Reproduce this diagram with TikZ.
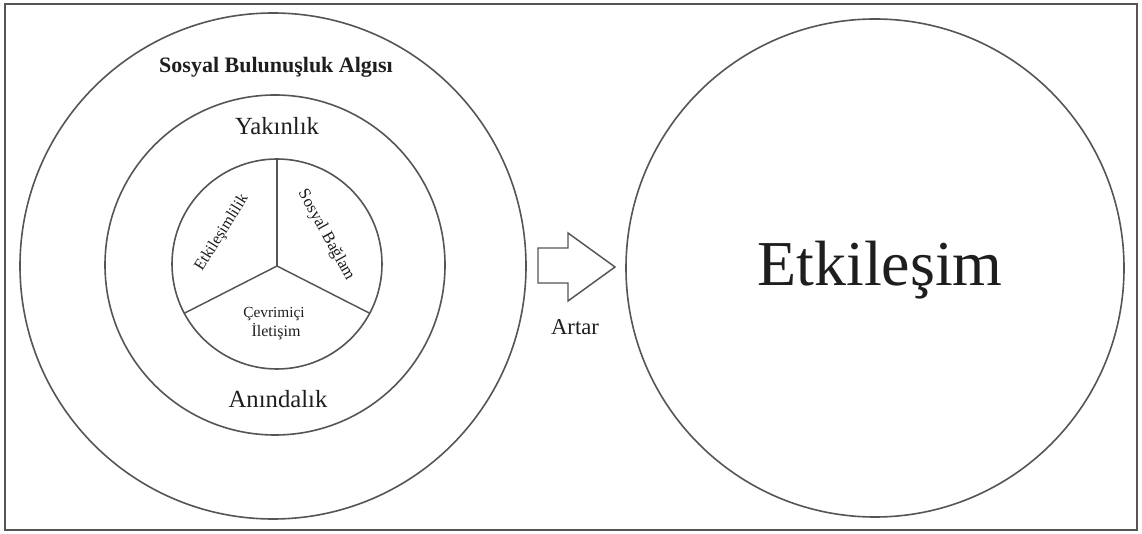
\documentclass[tikz,border=0pt]{standalone}
\usepackage{fontspec}
\setmainfont{Liberation Serif}
\definecolor{linegray}{HTML}{555555}
\definecolor{textcol}{HTML}{1E1E1E}
\begin{document}
\begin{tikzpicture}[x=0.75pt,y=-0.75pt,
  ring/.style={circle,draw=linegray,line width=1.2pt,inner sep=0pt,outer sep=0pt},
  lbl/.style={text=textcol,inner sep=0pt,anchor=base},
  spoke/.style={draw=linegray,line width=1.1pt}]
\useasboundingbox (0,0) rectangle (1142,534);
\fill[white] (0,0) rectangle (1142,534);
\draw[draw=linegray,line width=0.9pt] (5,4) rectangle (1137,530);
% left concentric circles
\node[ring,minimum size=379.5pt] (outer) at (273,266) {};
\node[ring,minimum size=255pt] (middle) at (275,265) {};
\node[ring,minimum size=157.5pt] (inner) at (277,264) {};
\coordinate (hub) at (277,266);
\draw[spoke] (hub) -- (inner.90);
\draw[spoke] (hub) -- (inner.208);
\draw[spoke] (hub) -- (inner.332);
% right circle
\node[ring,minimum size=373.5pt] (right) at (875,268) {};
% texts
\node[lbl,font=\fontsize{16.5pt}{18pt}\selectfont\bfseries] (title) at (276,73) {Sosyal Bulunuşluk Algısı};
\node[lbl,font=\fontsize{18.5pt}{20pt}\selectfont] (yak) at (277,135) {Yakınlık};
\node[lbl,font=\fontsize{18.5pt}{20pt}\selectfont] (anin) at (278,407) {Anındalık};
\node[lbl,font=\fontsize{11.5pt}{13pt}\selectfont] (cev) at (274,318) {Çevrimiçi};
\node[lbl,font=\fontsize{12pt}{13pt}\selectfont] (ilet) at (276,337) {İletişim};
\node[text=textcol,inner sep=0pt,font=\fontsize{12pt}{13pt}\selectfont,rotate=58] (etk) at (222,233) {Etkileşimlilik};
\node[text=textcol,inner sep=0pt,font=\fontsize{12.5pt}{13pt}\selectfont,rotate=-61] (bag) at (326,235) {Sosyal Bağlam};
\node[lbl,font=\fontsize{48pt}{50pt}\selectfont] (etkilesim) at (880,286) {Etkileşim};
\node[lbl,font=\fontsize{17pt}{19pt}\selectfont] (artar) at (575,335) {Artar};
% block arrow
\draw[draw=linegray,line width=1.1pt,line join=miter,fill=white]
  (538,248) -- (568,248) -- (568,233) -- (615,267) -- (568,301) -- (568,283) -- (538,283) -- cycle;
\end{tikzpicture}
\end{document}
